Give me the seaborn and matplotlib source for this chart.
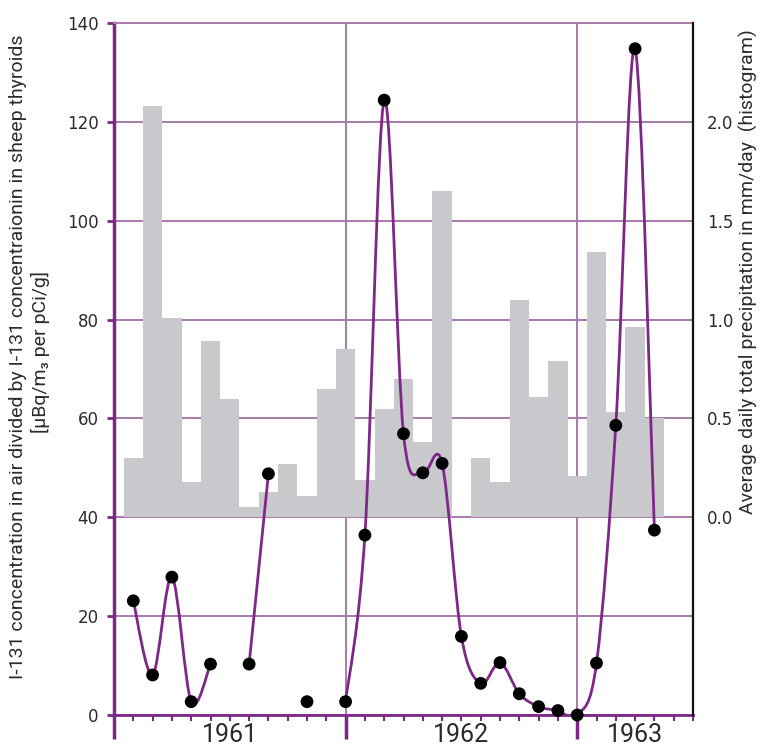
import numpy as np
import matplotlib
matplotlib.use("Agg")
import matplotlib.pyplot as plt
from matplotlib.path import Path
from matplotlib.patches import PathPatch
from matplotlib.ticker import MultipleLocator, FixedLocator
import seaborn as sns

# ---------------- data ----------------
# months counted from January 1961 (0 = start of 1961)
precip_month = list(range(1, 29))
precip_mm = [0.30, 2.08, 1.01, 0.18, 0.89, 0.60, 0.05, 0.13, 0.27, 0.11, 0.65, 0.85,
             0.19, 0.55, 0.70, 0.38, 1.65, 0.00, 0.30, 0.18, 1.10, 0.61, 0.79, 0.21,
             1.34, 0.53, 0.96, 0.50]

ratio_month = [1, 2, 3, 4, 5,
               7, 8,
               10,
               12, 13, 14, 15, 16, 17, 18, 19, 20, 21, 22, 23, 24, 25, 26, 27, 28]
ratio_value = [23.1, 8.1, 27.9, 2.7, 10.3,
               10.3, 48.8,
               2.7,
               2.7, 36.4, 124.4, 56.9, 49.0, 50.9, 15.9, 6.4, 10.6, 4.3, 1.7, 0.9,
               0.0, 10.5, 58.6, 134.8, 37.4]
ratio_segment = [0, 0, 0, 0, 0,
                 1, 1,
                 2,
                 3, 3, 3, 3, 3, 3, 3, 3, 3, 3, 3, 3, 3, 3, 3, 3, 3]

year_labels = ["1961", "1962", "1963"]
year_label_month = [6, 18, 27]
year_start_month = [0, 12, 24]

ylabel_left_1 = "I-131 concentration in air divided by I-131 concentraionin in sheep thyroids"
ylabel_left_2 = "[μBq/m₃ per pCi/g]"
ylabel_right = "Average daily total precipitation in mm/day  (histogram)"

# ---------------- style ----------------
PURPLE = "#7d2787"
GRID = "#a97aab"
BAR = "#c9c9cd"
TXT = "#2b2b2b"

sns.set_theme(style="white")
plt.rcParams["font.family"] = ["DejaVu Sans"]
COND = ["Liberation Sans Narrow", "Roboto", "DejaVu Sans"]

fig = plt.figure(figsize=(7.6, 7.47), dpi=100)
ax = fig.add_axes([114 / 760, 1 - 715 / 747, (693 - 114) / 760, (715 - 23) / 747])

ax.set_xlim(0, 30)
ax.set_ylim(0, 140)

# grid
ax.yaxis.set_major_locator(MultipleLocator(20))
ax.xaxis.set_major_locator(FixedLocator(year_start_month))
ax.xaxis.set_minor_locator(MultipleLocator(1))
ax.grid(True, which="major", color=GRID, lw=1.4)
ax.set_axisbelow(True)

ax.spines["left"].set_color(PURPLE)
ax.spines["left"].set_linewidth(2.5)
ax.spines["bottom"].set_color(PURPLE)
ax.spines["bottom"].set_linewidth(2.0)
ax.spines["top"].set_color(GRID)
ax.spines["top"].set_linewidth(1.4)
ax.spines["right"].set_visible(False)

ax.tick_params(axis="y", which="major", direction="out", length=5, width=2,
               color=PURPLE, labelsize=12, labelcolor=TXT, pad=6, left=True)
ax.tick_params(axis="x", which="major", direction="out", length=17, width=2.5,
               color=PURPLE, labelbottom=False, bottom=True)
ax.tick_params(axis="x", which="minor", direction="out", length=4, width=1.5,
               color=PURPLE, bottom=True)

# precipitation bars (right axis): 0 mm aligned with 40 on left, 2.0 with 120
ax2 = ax.twinx()
sns.barplot(x=precip_month, y=precip_mm, native_scale=True, width=1.0,
            color=BAR, saturation=1, linewidth=0, ax=ax2)
ax2.set_ylim(-1.0, 2.5)
ax2.set_xlim(0, 30)
ax2.set_yticks([0.0, 0.5, 1.0, 1.5, 2.0])
ax2.set_yticklabels(["0.0", "0.5", "1.0", "1.5", "2.0"])
ax2.tick_params(axis="y", length=0, pad=10, labelsize=12, labelcolor=TXT, right=True)
ax2.set_ylabel("")
ax2.set_xlabel("")
for side in ["left", "top", "bottom"]:
    ax2.spines[side].set_visible(False)
ax2.spines["right"].set_color("#111111")
ax2.spines["right"].set_linewidth(1.6)
ax2.grid(False)

# ratio curve (top layer)
ax3 = ax.twinx()
ax3.set_ylim(0, 140)
ax3.set_xlim(0, 30)
ax3.axis("off")

months = np.array(ratio_month, dtype=float)
values = np.array(ratio_value, dtype=float)
segs = np.array(ratio_segment)


def smooth_path(xs, ys):
    pts = np.column_stack([xs, ys])
    n = len(pts)
    verts = [pts[0]]
    codes = [Path.MOVETO]
    for i in range(n - 1):
        p0 = pts[max(i - 1, 0)]
        p1 = pts[i]
        p2 = pts[i + 1]
        p3 = pts[min(i + 2, n - 1)]
        verts += [p1 + (p2 - p0) / 6.0, p2 - (p3 - p1) / 6.0, p2]
        codes += [Path.CURVE4] * 3
    return Path(verts, codes)


for s in np.unique(segs):
    m = segs == s
    if m.sum() > 1:
        ax3.add_patch(PathPatch(smooth_path(months[m], values[m]), fill=False,
                                edgecolor=PURPLE, lw=2.0, zorder=2))

sns.scatterplot(x=ratio_month, y=ratio_value, color="black", s=85,
                edgecolor="none", ax=ax3, zorder=3, clip_on=False)
ax3.set_xlim(0, 30)
ax3.set_ylim(0, 140)
ax.set_xlim(0, 30)

# year labels
for lab, mth in zip(year_labels, year_label_month):
    ax.annotate(lab, xy=(mth, 0), xycoords=("data", "axes fraction"),
                xytext=(0, -6), textcoords="offset points", ha="center", va="top",
                fontsize=18, color=TXT, family=COND)

# axis titles
fig.text(18 / 760, 1 - 357 / 747, ylabel_left_1, rotation=90, ha="center",
         va="center", fontsize=14, color=TXT, family=COND)
fig.text(40 / 760, 1 - 352 / 747, ylabel_left_2, rotation=90, ha="center",
         va="center", fontsize=14, color=TXT, family=COND)
fig.text(748 / 760, 1 - 272 / 747, ylabel_right, rotation=90, ha="center",
         va="center", fontsize=14, color=TXT, family=COND)

fig.savefig("out.png", dpi=100, facecolor="white")
